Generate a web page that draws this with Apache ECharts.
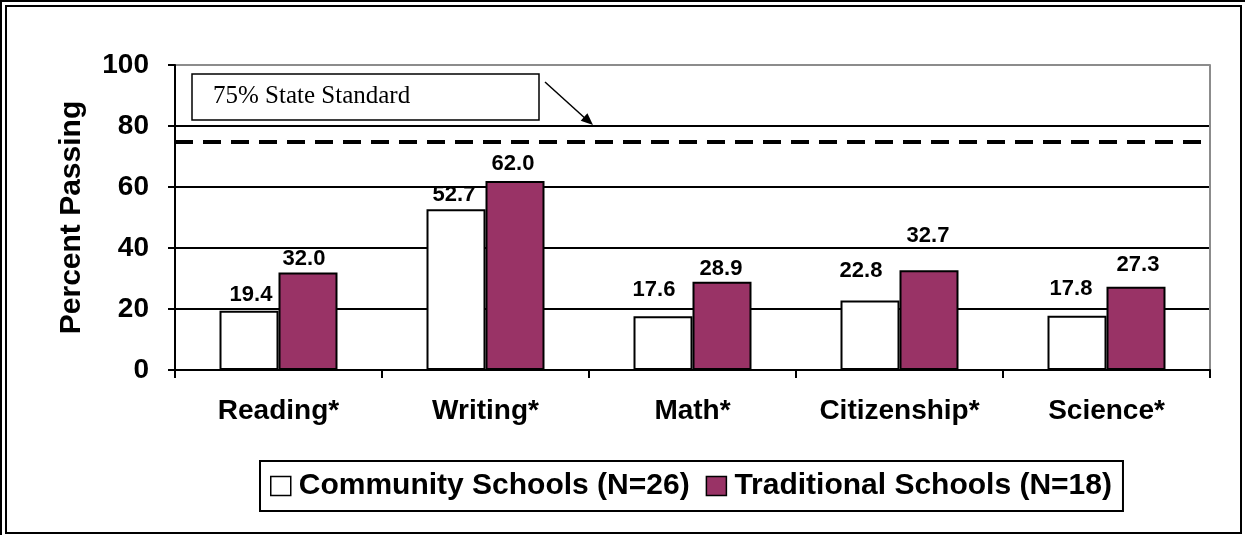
<!DOCTYPE html>
<html>
<head>
<meta charset="utf-8">
<style>
  html, body { margin: 0; padding: 0; background: #fff; }
  #chart { width: 1245px; height: 535px; }
</style>
<script src="https://cdn.jsdelivr.net/npm/echarts@6/dist/echarts.min.js"></script>
</head>
<body>
<div id="chart"></div>
<script>
// ---- data ----
const categories = ['Reading*', 'Writing*', 'Math*', 'Citizenship*', 'Science*'];
const communityName = 'Community Schools (N=26)';
const traditionalName = 'Traditional Schools (N=18)';
const communityValues = [19.4, 52.7, 17.6, 22.8, 17.8];
const traditionalValues = [32.0, 62.0, 28.9, 32.7, 27.3];
const yTicks = [0, 20, 40, 60, 80, 100];
const stateStandard = 75;
const standardLabel = '75% State Standard';
const yTitle = 'Percent Passing';

// ---- styling ----
const SANS = "'Liberation Sans', Arial, Helvetica, sans-serif";
const SERIF = "'Liberation Serif', 'Times New Roman', serif";
// manual label nudges (as placed in the original figure)
const communityNudge = [[2, -2], [-2, 0], [-9, -12], [-9, -16], [-6, -13]];
const traditionalNudge = [[-4, 1], [-2, -3], [-1, 1], [-1, -20], [2, -8]];

function withLabels(values, nudges) {
  return values.map((v, i) => ({
    value: v,
    label: { offset: nudges[i] }
  }));
}

const chart = echarts.init(document.getElementById('chart'), null, { renderer: 'canvas' });

const labelStyle = {
  show: true,
  position: 'top',
  distance: 3,
  fontFamily: SANS,
  fontSize: 22,
  fontWeight: 'bold',
  color: '#000',
  formatter: p => Number(p.value).toFixed(1)
};

const option = {
  backgroundColor: '#fff',
  animation: false,
  grid: { left: 175, right: 35, top: 65, bottom: 165, containLabel: false },
  legend: {
    left: 260,
    top: 461,
    orient: 'horizontal',
    icon: 'rect',
    itemWidth: 20,
    itemHeight: 19,
    itemGap: 16,
    padding: [10, 11, 10, 10],
    borderColor: '#000',
    borderWidth: 2,
    backgroundColor: '#fff',
    itemStyle: { borderColor: '#000', borderWidth: 1.5 },
    textStyle: { fontFamily: SANS, fontSize: 30, fontWeight: 'bold', color: '#000', padding: [0, 0, 0, 3] },
    data: [communityName, traditionalName]
  },
  xAxis: {
    type: 'category',
    data: categories,
    boundaryGap: true,
    axisLine: { show: true, lineStyle: { color: '#000', width: 2 } },
    axisTick: { show: true, interval: 0, alignWithLabel: false, length: 8, lineStyle: { color: '#000', width: 2 } },
    axisLabel: { interval: 0, fontFamily: SANS, fontSize: 28, fontWeight: 'bold', color: '#000', margin: 27 },
    splitLine: { show: false }
  },
  yAxis: [
    {
      type: 'value',
      min: yTicks[0],
      max: yTicks[yTicks.length - 1],
      interval: yTicks[1] - yTicks[0],
      name: yTitle,
      nameLocation: 'middle',
      nameRotate: 90,
      nameGap: 88,
      nameTextStyle: { fontFamily: SANS, fontSize: 30, fontWeight: 'bold', color: '#000' },
      axisLine: { show: true, lineStyle: { color: '#000', width: 2 } },
      axisTick: { show: true, length: 7, lineStyle: { color: '#000', width: 2 } },
      axisLabel: { fontFamily: SANS, fontSize: 28, fontWeight: 'bold', color: '#000', margin: 26 },
      splitLine: {
        show: true,
        lineStyle: { color: ['#000', '#000', '#000', '#000', '#000', '#8c8c8c'], width: 2 }
      }
    },
    {
      type: 'value',
      position: 'right',
      min: yTicks[0],
      max: yTicks[yTicks.length - 1],
      interval: yTicks[1] - yTicks[0],
      axisLine: { show: true, lineStyle: { color: '#8c8c8c', width: 2 } },
      axisTick: { show: false },
      axisLabel: { show: false },
      splitLine: { show: false }
    }
  ],
  series: [
    {
      name: communityName,
      type: 'bar',
      barGap: '0%',
      barCategoryGap: '43%',
      itemStyle: { color: '#ffffff', borderColor: '#000', borderWidth: 2 },
      label: labelStyle,
      data: withLabels(communityValues, communityNudge),
      markLine: {
        silent: true,
        symbol: ['none', 'none'],
        label: { show: false },
        lineStyle: { color: '#000', width: 4, type: [18, 10] },
        data: [{ yAxis: stateStandard }]
      },
      z: 2
    },
    {
      name: traditionalName,
      type: 'bar',
      barGap: '0%',
      barCategoryGap: '43%',
      itemStyle: { color: '#993366', borderColor: '#000', borderWidth: 2 },
      label: labelStyle,
      data: withLabels(traditionalValues, traditionalNudge),
      z: 3
    }
  ],
  graphic: [
    // outer double frame
    { type: 'polyline', shape: { points: [[1, 535], [1, 1], [1245, 1]] }, style: { stroke: '#000', lineWidth: 2, fill: null }, z: 10 },
    { type: 'rect', shape: { x: 6, y: 6, width: 1235, height: 527 }, style: { stroke: '#000', lineWidth: 2, fill: null }, z: 10 },
    // annotation box
    { type: 'rect', shape: { x: 192, y: 74, width: 347, height: 46 }, style: { stroke: '#000', lineWidth: 1.5, fill: '#fff' }, z: 20 },
    { type: 'text', left: 213, top: 84, style: { text: standardLabel, font: '25px ' + SERIF, fill: '#000' }, z: 21 },
    // arrow
    { type: 'line', shape: { x1: 545, y1: 82, x2: 587, y2: 120 }, style: { stroke: '#000', lineWidth: 1.5 }, z: 20 },
    { type: 'polygon', shape: { points: [[593, 125], [580.7, 120.7], [587.4, 113.3]] }, style: { fill: '#000' }, z: 20 }
  ]
};

chart.setOption(option);
</script>
</body>
</html>
